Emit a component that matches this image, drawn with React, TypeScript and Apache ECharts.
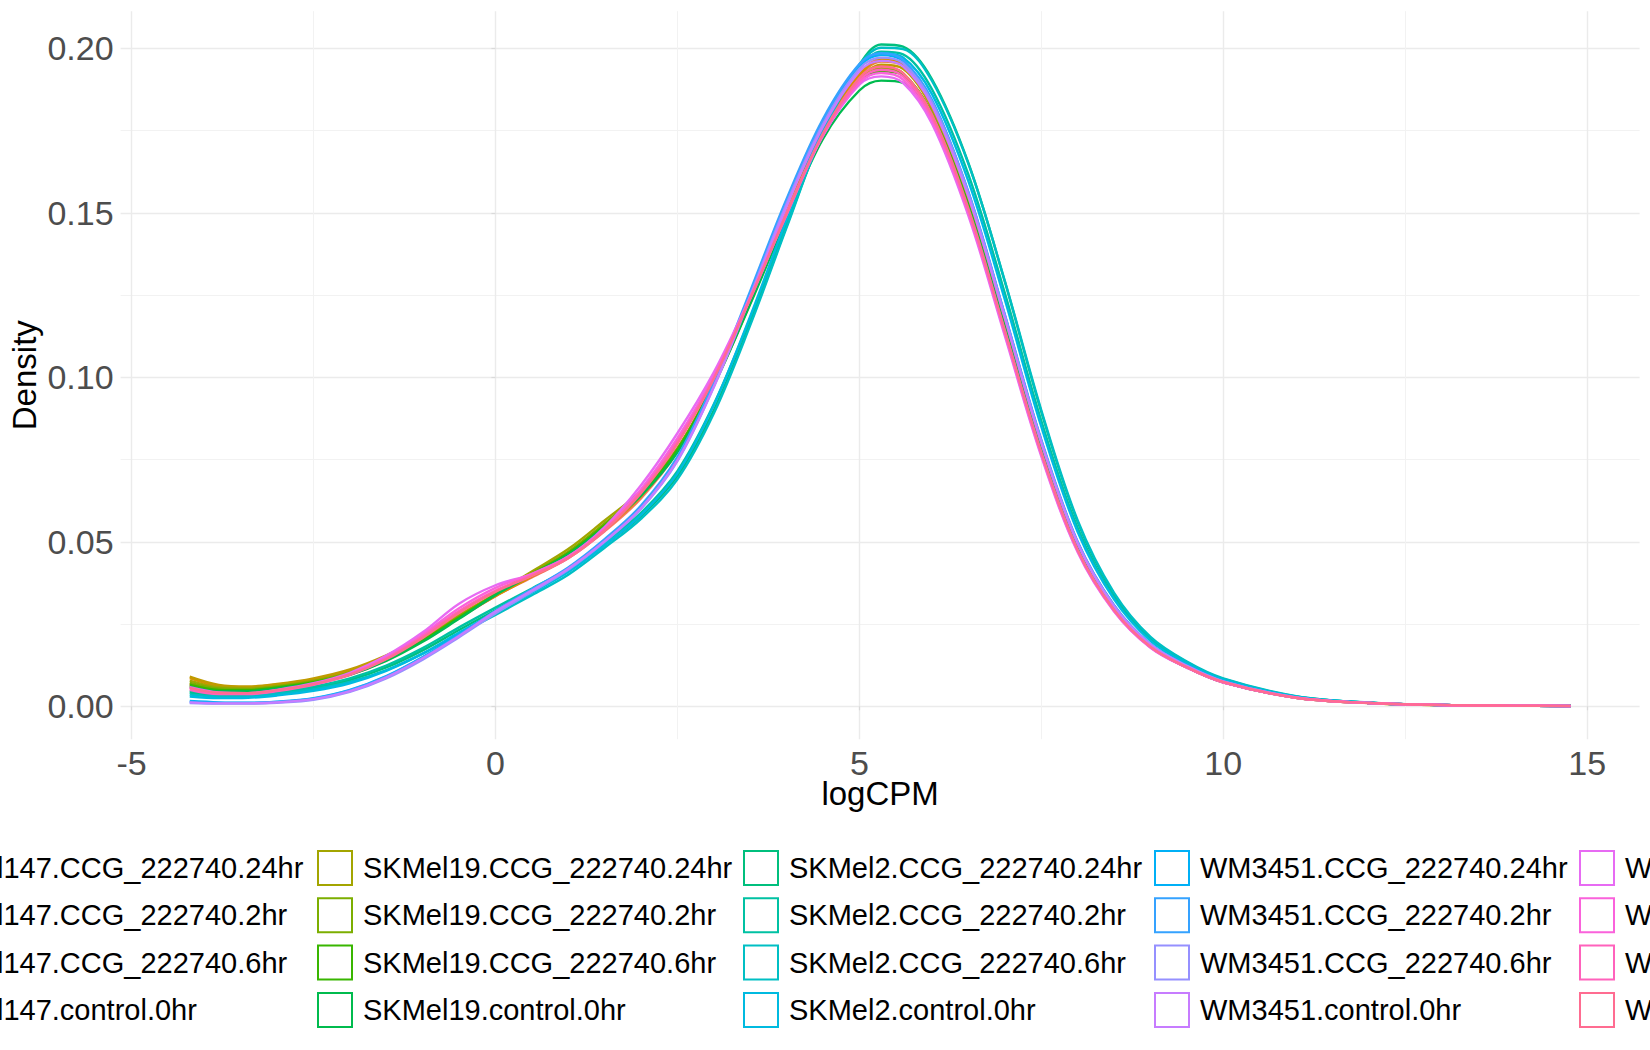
import React, { useEffect, useRef } from "react";
import * as echarts from "echarts";

// logCPM grid at which densities were read
const X_VALUES = [-4.2, -3.8, -3.4, -3.0, -2.5, -2.0, -1.5, -1.0, -0.5, 0, 0.5, 1.0, 1.5, 2.0, 2.5, 3.0, 3.5, 4.0, 4.5, 5.0, 5.3, 5.6, 6.0, 6.5, 7.0, 7.5, 8.0, 8.5, 9.0, 9.5, 10, 11, 12, 13, 14, 14.77];

const SAMPLE_NAMES = [
  "SKMel147.CCG_222740.24hr", "SKMel147.CCG_222740.2hr", "SKMel147.CCG_222740.6hr", "SKMel147.control.0hr",
  "SKMel19.CCG_222740.24hr", "SKMel19.CCG_222740.2hr", "SKMel19.CCG_222740.6hr", "SKMel19.control.0hr",
  "SKMel2.CCG_222740.24hr", "SKMel2.CCG_222740.2hr", "SKMel2.CCG_222740.6hr", "SKMel2.control.0hr",
  "WM3451.CCG_222740.24hr", "WM3451.CCG_222740.2hr", "WM3451.CCG_222740.6hr", "WM3451.control.0hr",
  "WM88.CCG_222740.24hr", "WM88.CCG_222740.2hr", "WM88.CCG_222740.6hr", "WM88.control.0hr",
];

const COLORS = [
  "#F8766D", "#EA8331", "#D89000", "#C09B00", "#A3A500", "#7CAE00", "#39B600", "#00BB4E",
  "#00BF7D", "#00C1A3", "#00BFC4", "#00BAE0", "#00B0F6", "#35A2FF", "#9590FF", "#C77CFF",
  "#E76BF3", "#FA62DB", "#FF62BC", "#FF6C91",
];

const skmel147_24 = [0.0062,0.0045,0.0044,0.0052,0.0068,0.0095,0.0140,0.0200,0.0268,0.0335,0.0392,0.0450,0.0532,0.0632,0.0775,0.0985,0.1238,0.1505,0.1755,0.1925,0.1968,0.1955,0.1835,0.1552,0.1180,0.0800,0.0492,0.0302,0.0186,0.0122,0.0075,0.0027,0.0010,0.0004,0.0002,0.0001];
const skmel147_2 = [0.0068,0.0050,0.0048,0.0056,0.0072,0.0100,0.0145,0.0203,0.0270,0.0336,0.0394,0.0452,0.0536,0.0636,0.0778,0.0983,0.1232,0.1498,0.1748,0.1915,0.1960,0.1948,0.1828,0.1548,0.1175,0.0795,0.0488,0.0300,0.0185,0.0121,0.0075,0.0027,0.0010,0.0004,0.0002,0.0001];
const skmel147_6 = [0.0086,0.0062,0.0058,0.0066,0.0082,0.0108,0.0150,0.0205,0.0272,0.0335,0.0395,0.0455,0.0540,0.0640,0.0780,0.0985,0.1235,0.1500,0.1750,0.1920,0.1965,0.1950,0.1830,0.1545,0.1170,0.0790,0.0485,0.0298,0.0183,0.0120,0.0074,0.0027,0.0010,0.0004,0.0003,0.0002];
const skmel147_ctrl = [0.0090,0.0065,0.0060,0.0068,0.0085,0.0112,0.0155,0.0210,0.0278,0.0340,0.0400,0.0460,0.0545,0.0645,0.0782,0.0982,0.1228,0.1490,0.1740,0.1905,0.1950,0.1938,0.1815,0.1535,0.1160,0.0782,0.0480,0.0295,0.0181,0.0119,0.0073,0.0027,0.0010,0.0004,0.0003,0.0002];

const skmel19_24 = [0.0078,0.0058,0.0055,0.0062,0.0078,0.0104,0.0148,0.0205,0.0275,0.0342,0.0410,0.0478,0.0565,0.0655,0.0785,0.0978,0.1225,0.1490,0.1738,0.1900,0.1940,0.1925,0.1800,0.1520,0.1150,0.0775,0.0478,0.0293,0.0180,0.0118,0.0073,0.0026,0.0010,0.0004,0.0003,0.0002];
const skmel19_2 = [0.0072,0.0054,0.0052,0.0060,0.0076,0.0102,0.0145,0.0202,0.0272,0.0340,0.0405,0.0470,0.0556,0.0650,0.0782,0.0980,0.1228,0.1492,0.1740,0.1898,0.1935,0.1920,0.1798,0.1518,0.1148,0.0773,0.0477,0.0292,0.0180,0.0118,0.0073,0.0026,0.0010,0.0004,0.0002,0.0001];
const skmel19_6 = [0.0066,0.0050,0.0049,0.0057,0.0073,0.0099,0.0142,0.0200,0.0270,0.0340,0.0402,0.0465,0.0550,0.0646,0.0780,0.0982,0.1230,0.1495,0.1742,0.1895,0.1930,0.1918,0.1800,0.1522,0.1152,0.0776,0.0479,0.0294,0.0181,0.0119,0.0073,0.0026,0.0010,0.0004,0.0002,0.0001];
const skmel19_ctrl = [0.0060,0.0046,0.0046,0.0054,0.0070,0.0096,0.0138,0.0196,0.0266,0.0338,0.0400,0.0462,0.0545,0.0640,0.0772,0.0975,0.1222,0.1482,0.1725,0.1872,0.1902,0.1895,0.1785,0.1515,0.1150,0.0778,0.0480,0.0295,0.0182,0.0119,0.0074,0.0027,0.0010,0.0004,0.0002,0.0001];

const skmel2_24 = [0.0042,0.0034,0.0035,0.0042,0.0056,0.0080,0.0118,0.0170,0.0232,0.0292,0.0350,0.0410,0.0490,0.0578,0.0700,0.0900,0.1165,0.1460,0.1745,0.1950,0.2012,0.2005,0.1905,0.1650,0.1290,0.0895,0.0560,0.0340,0.0208,0.0134,0.0083,0.0030,0.0011,0.0004,0.0002,0.0001];
const skmel2_2 = [0.0046,0.0037,0.0038,0.0045,0.0060,0.0085,0.0124,0.0177,0.0240,0.0300,0.0358,0.0418,0.0498,0.0588,0.0715,0.0918,0.1180,0.1470,0.1748,0.1940,0.1990,0.1982,0.1875,0.1615,0.1255,0.0868,0.0542,0.0330,0.0202,0.0131,0.0081,0.0029,0.0011,0.0004,0.0002,0.0001];
const skmel2_6 = [0.0036,0.0030,0.0031,0.0038,0.0052,0.0074,0.0110,0.0160,0.0220,0.0278,0.0338,0.0400,0.0482,0.0570,0.0690,0.0890,0.1158,0.1455,0.1745,0.1948,0.2002,0.1998,0.1900,0.1648,0.1292,0.0900,0.0565,0.0345,0.0211,0.0136,0.0085,0.0031,0.0011,0.0004,0.0002,0.0001];
const skmel2_ctrl = [0.0030,0.0025,0.0026,0.0033,0.0047,0.0070,0.0108,0.0160,0.0224,0.0285,0.0345,0.0408,0.0490,0.0582,0.0708,0.0915,0.1185,0.1480,0.1760,0.1950,0.1985,0.1972,0.1860,0.1595,0.1235,0.0850,0.0530,0.0325,0.0199,0.0129,0.0080,0.0029,0.0011,0.0004,0.0002,0.0001];

const wm3451_24 = [0.0016,0.0012,0.0011,0.0014,0.0025,0.0050,0.0092,0.0150,0.0218,0.0290,0.0355,0.0420,0.0505,0.0605,0.0750,0.0975,0.1250,0.1530,0.1775,0.1945,0.1980,0.1962,0.1840,0.1560,0.1188,0.0808,0.0498,0.0306,0.0188,0.0123,0.0076,0.0027,0.0010,0.0004,0.0002,0.0001];
const wm3451_2 = [0.0013,0.0010,0.0010,0.0013,0.0023,0.0048,0.0090,0.0148,0.0216,0.0290,0.0356,0.0422,0.0508,0.0610,0.0758,0.0985,0.1262,0.1542,0.1785,0.1952,0.1985,0.1965,0.1842,0.1562,0.1190,0.0810,0.0500,0.0307,0.0189,0.0124,0.0076,0.0027,0.0010,0.0004,0.0002,0.0001];
const wm3451_6 = [0.0010,0.0008,0.0008,0.0011,0.0020,0.0044,0.0085,0.0142,0.0210,0.0282,0.0348,0.0415,0.0500,0.0600,0.0745,0.0972,0.1248,0.1528,0.1770,0.1938,0.1972,0.1955,0.1835,0.1558,0.1186,0.0806,0.0497,0.0305,0.0188,0.0123,0.0076,0.0027,0.0010,0.0004,0.0002,0.0001];
const wm3451_ctrl = [0.0012,0.0009,0.0009,0.0012,0.0022,0.0046,0.0088,0.0146,0.0214,0.0288,0.0352,0.0418,0.0502,0.0602,0.0748,0.0970,0.1242,0.1520,0.1762,0.1930,0.1962,0.1945,0.1825,0.1548,0.1178,0.0800,0.0494,0.0303,0.0187,0.0122,0.0075,0.0027,0.0010,0.0004,0.0002,0.0001];

const wm88_24 = [0.0058,0.0042,0.0040,0.0050,0.0070,0.0102,0.0154,0.0225,0.0312,0.0368,0.0402,0.0455,0.0545,0.0672,0.0830,0.1015,0.1245,0.1500,0.1735,0.1890,0.1915,0.1895,0.1770,0.1490,0.1125,0.0760,0.0468,0.0288,0.0178,0.0117,0.0072,0.0026,0.0010,0.0004,0.0002,0.0001];
const wm88_2 = [0.0055,0.0040,0.0039,0.0048,0.0068,0.0098,0.0148,0.0218,0.0298,0.0360,0.0403,0.0455,0.0540,0.0660,0.0815,0.1005,0.1240,0.1495,0.1735,0.1895,0.1925,0.1905,0.1780,0.1498,0.1132,0.0765,0.0471,0.0290,0.0179,0.0118,0.0073,0.0026,0.0010,0.0004,0.0002,0.0001];
const wm88_6 = [0.0050,0.0037,0.0037,0.0046,0.0065,0.0096,0.0145,0.0213,0.0290,0.0352,0.0398,0.0452,0.0537,0.0652,0.0805,0.0998,0.1238,0.1495,0.1738,0.1902,0.1935,0.1915,0.1790,0.1505,0.1138,0.0770,0.0474,0.0292,0.0180,0.0118,0.0073,0.0026,0.0010,0.0004,0.0002,0.0001];
const wm88_ctrl = [0.0056,0.0041,0.0040,0.0049,0.0067,0.0097,0.0143,0.0208,0.0284,0.0348,0.0396,0.0450,0.0535,0.0648,0.0798,0.0995,0.1240,0.1498,0.1742,0.1910,0.1945,0.1925,0.1798,0.1512,0.1142,0.0772,0.0475,0.0293,0.0181,0.0119,0.0074,0.0026,0.0010,0.0004,0.0002,0.0001];

const SERIES_VALUES = [
  skmel147_24, skmel147_2, skmel147_6, skmel147_ctrl,
  skmel19_24, skmel19_2, skmel19_6, skmel19_ctrl,
  skmel2_24, skmel2_2, skmel2_6, skmel2_ctrl,
  wm3451_24, wm3451_2, wm3451_6, wm3451_ctrl,
  wm88_24, wm88_2, wm88_6, wm88_ctrl,
];

const X_TICKS = [-5, 0, 5, 10, 15];
const X_MINOR = [-2.5, 2.5, 7.5, 12.5];
const Y_TICKS = [0, 0.05, 0.1, 0.15, 0.2];
const Y_MINOR = [0.025, 0.075, 0.125, 0.175];

const LEGEND_COLUMN_LEFT = [-128, 317, 743, 1154, 1579];

export default function App() {
  const ref = useRef<HTMLDivElement>(null);

  useEffect(() => {
    if (!ref.current) return;
    const chart = echarts.init(ref.current, null, { renderer: "svg" });
    const font = '"Liberation Sans", Arimo, Arial, Helvetica, sans-serif';
    const X_MIN = -5.15;
    const X_MAX = 15.72;
    const Y_MIN = -0.01;
    const Y_MAX = 0.2113;

    const series = SERIES_VALUES.map((vals, i) => ({
      name: SAMPLE_NAMES[i],
      type: "line",
      xAxisIndex: 0,
      yAxisIndex: 0,
      data: X_VALUES.map((x, j) => [x, vals[j]]),
      showSymbol: false,
      symbol: "none",
      smooth: 0.35,
      color: COLORS[i],
      lineStyle: { color: COLORS[i], width: 2.4 },
      itemStyle: { color: COLORS[i] },
      emphasis: { disabled: true },
      silent: true,
      z: 3,
    }));

    const legends = LEGEND_COLUMN_LEFT.map((left, ci) => ({
      orient: "vertical",
      left,
      top: 850,
      padding: 0,
      itemWidth: 34,
      itemHeight: 34,
      itemGap: 11.3,
      icon: "rect",
      selectedMode: false,
      textStyle: { fontSize: 29, color: "#000000", fontFamily: font, padding: [0, 0, 0, 6] },
      data: SAMPLE_NAMES.slice(ci * 4, ci * 4 + 4).map((name, k) => ({
        name,
        icon: "rect",
        itemStyle: { color: "#FFFFFF", borderColor: COLORS[ci * 4 + k], borderWidth: 2 },
      })),
    }));

    chart.setOption({
      animation: false,
      backgroundColor: "#FFFFFF",
      textStyle: { fontFamily: font },
      grid: {
        left: 120.6,
        right: 10.4,
        top: 11.2,
        bottom: 310.8,
        containLabel: false,
        outerBoundsMode: "none",
      },
      legend: legends,
      xAxis: [
        {
          type: "value",
          min: X_MIN,
          max: X_MAX,
          name: "logCPM",
          nameLocation: "middle",
          nameGap: 38,
          nameMoveOverlap: false,
          nameTextStyle: { fontSize: 33, color: "#000000", fontFamily: font },
          axisLine: { show: false },
          axisTick: { show: true, length: 4, customValues: X_TICKS, lineStyle: { color: "#DADADA", width: 1.2 } },
          axisLabel: {
            customValues: X_TICKS,
            margin: 10,
            lineHeight: 28,
            fontSize: 34,
            color: "#4D4D4D",
            fontFamily: font,
            formatter: (v: number) => String(v),
          },
          splitLine: { show: true, lineStyle: { color: "#EBEBEB", width: 1.4 } },
        },
        {
          type: "value",
          min: X_MIN,
          max: X_MAX,
          position: "top",
          axisLine: { show: false },
          axisTick: { show: false, customValues: X_MINOR },
          axisLabel: { show: false, customValues: X_MINOR },
          splitLine: { show: true, lineStyle: { color: "#F2F2F2", width: 1 } },
        },
      ],
      yAxis: [
        {
          type: "value",
          min: Y_MIN,
          max: Y_MAX,
          name: "Density",
          nameLocation: "middle",
          nameGap: 80,
          nameMoveOverlap: false,
          nameTextStyle: { fontSize: 33, color: "#000000", fontFamily: font },
          axisLine: { show: false },
          axisTick: { show: true, length: 4, customValues: Y_TICKS, lineStyle: { color: "#DADADA", width: 1.2 } },
          axisLabel: {
            customValues: Y_TICKS,
            margin: 7,
            fontSize: 34,
            color: "#4D4D4D",
            fontFamily: font,
            formatter: (v: number) => v.toFixed(2),
          },
          splitLine: { show: true, lineStyle: { color: "#EBEBEB", width: 1.4 } },
        },
        {
          type: "value",
          min: Y_MIN,
          max: Y_MAX,
          position: "right",
          axisLine: { show: false },
          axisTick: { show: false, customValues: Y_MINOR },
          axisLabel: { show: false, customValues: Y_MINOR },
          splitLine: { show: true, lineStyle: { color: "#F2F2F2", width: 1 } },
        },
      ],
      series,
    });

    return () => chart.dispose();
  }, []);

  return (
    <div
      ref={ref}
      style={{ position: "fixed", left: 0, top: 0, width: 1650, height: 1050, background: "#FFFFFF" }}
    />
  );
}
